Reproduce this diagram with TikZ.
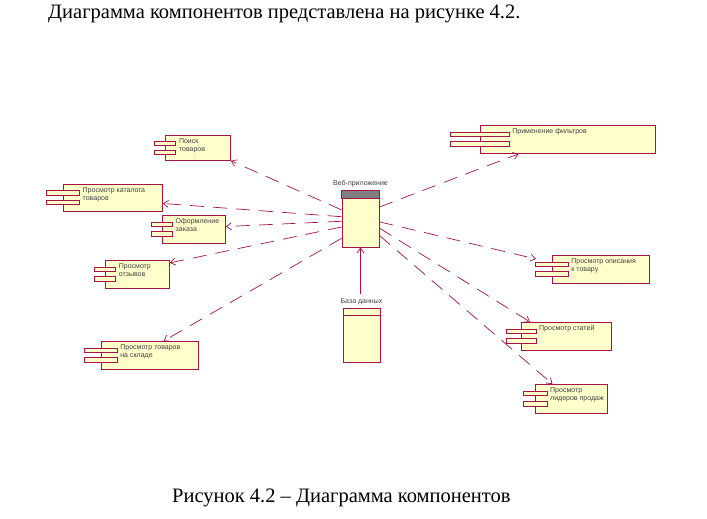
\documentclass[tikz,border=0pt]{standalone}
\usepackage{fontspec}
\setmainfont{Liberation Serif}
\newfontfamily\diafont{Liberation Sans}
\usetikzlibrary{arrows.meta, calc, positioning}
\definecolor{rosered}{RGB}{165,20,70}
\definecolor{rosefill}{RGB}{255,255,204}
\tikzset{
  body/.style={draw=rosered, fill=rosefill, line width=0.8pt, inner sep=0pt},
  tab/.style={draw=rosered, fill=rosefill, line width=0.8pt},
  ctext/.style={font=\diafont\fontsize{7}{8.5}\selectfont, text=black!75, align=left, inner sep=0pt},
  dep/.style={draw=rosered, line width=0.7pt, dash pattern=on 14pt off 9pt, -{Straight Barb[length=5pt, width=7pt]}},
  dbdep/.style={draw=rosered, line width=0.7pt, -{Straight Barb[length=5pt, width=7pt]}},
}
% component: name, left, top, width, height, text
\newcommand{\comp}[6]{%
  \node[body, minimum width=#4pt, minimum height=#5pt, anchor=north west] (#1) at (#2,#3) {};
  \draw[tab] ($(#1.north west)+(-#4/6,0.25*#5)$) rectangle ++(#4/3,0.16*#5);
  \draw[tab] ($(#1.north west)+(-#4/6,0.6*#5)$) rectangle ++(#4/3,0.16*#5);
  \node[ctext, anchor=north west] at ($(#1.north west)+(#4/6+3,3)$) {#6};
}

\begin{document}
\begin{tikzpicture}[x=1pt, y=-1pt]
\useasboundingbox[fill=white] (0,0) rectangle (707,519);

\node[anchor=base west, inner sep=0pt, font=\fontsize{20.5}{24}\selectfont] (head) at (48,19) {Диаграмма компонентов представлена на рисунке 4.2.};
\node[anchor=base west, inner sep=0pt, font=\fontsize{20.5}{24}\selectfont] (caption) at (172,502) {Рисунок 4.2 – Диаграмма компонентов};

% web application and database
\node[body, minimum width=37pt, minimum height=56pt] (web) at (360.5,219) {};
\draw[tab, fill=gray] (web.north west) rectangle ($(web.north east)+(0,8)$);
\node[ctext, above=3pt of web] (weblbl) {Веб-приложение};
\node[body, minimum width=37pt, minimum height=54pt] (db) at (361.5,335) {};
\draw[rosered, line width=0.8pt] ($(db.north west)+(0,8)$) -- ($(db.north east)+(0,8)$);
\node[ctext, above=3pt of db] (dblbl) {База данных};

% components
\comp{poisk}{165}{135}{65}{25}{Поиск\\товаров}
\comp{katalog}{63}{184}{99}{27}{Просмотр каталога\\товаров}
\comp{zakaz}{162}{215}{63}{28}{Оформление\\заказа}
\comp{otzyv}{105}{260}{64}{28}{Просмотр\\отзывов}
\comp{sklad}{101}{341}{97}{28}{Просмотр товаров\\на складе}
\comp{filtr}{480}{125}{175}{28}{Применение фильтров}
\comp{opisanie}{552}{255}{97}{28}{Просмотр описания\\к товару}
\comp{statya}{521}{322}{90}{28}{Просмотр статей}
\comp{lider}{535}{384}{72}{29}{Просмотр\\лидеров продаж}

% dependencies
\draw[dep] ($(web.north west)!0.34!(web.south west)$) -- (poisk.south east);
\draw[dep] ($(web.north west)!0.46!(web.south west)$) -- ($(katalog.north east)!0.7!(katalog.south east)$);
\draw[dep] ($(web.north west)!0.54!(web.south west)$) -- ($(zakaz.north east)!0.4!(zakaz.south east)$);
\draw[dep] ($(web.north west)!0.64!(web.south west)$) -- ($(otzyv.north east)!0.1!(otzyv.south east)$);
\draw[dep] ($(web.north west)!0.84!(web.south west)$) -- ($(sklad.north west)!0.64!(sklad.north east)$);
\draw[dep] ($(web.north east)!0.29!(web.south east)$) -- ($(filtr.south west)!0.22!(filtr.south east)$);
\draw[dep] ($(web.north east)!0.55!(web.south east)$) -- ($(opisanie.north west)+(-16,4)$);
\draw[dep] ($(web.north east)!0.66!(web.south east)$) -- ($(statya.north west)!0.1!(statya.north east)$);
\draw[dep] ($(web.north east)!0.79!(web.south east)$) -- ($(lider.north west)!0.24!(lider.north east)$);
\draw[dbdep] ($(dblbl.north -| web.south)+(0,-4)$) -- (web.south);
\end{tikzpicture}
\end{document}
